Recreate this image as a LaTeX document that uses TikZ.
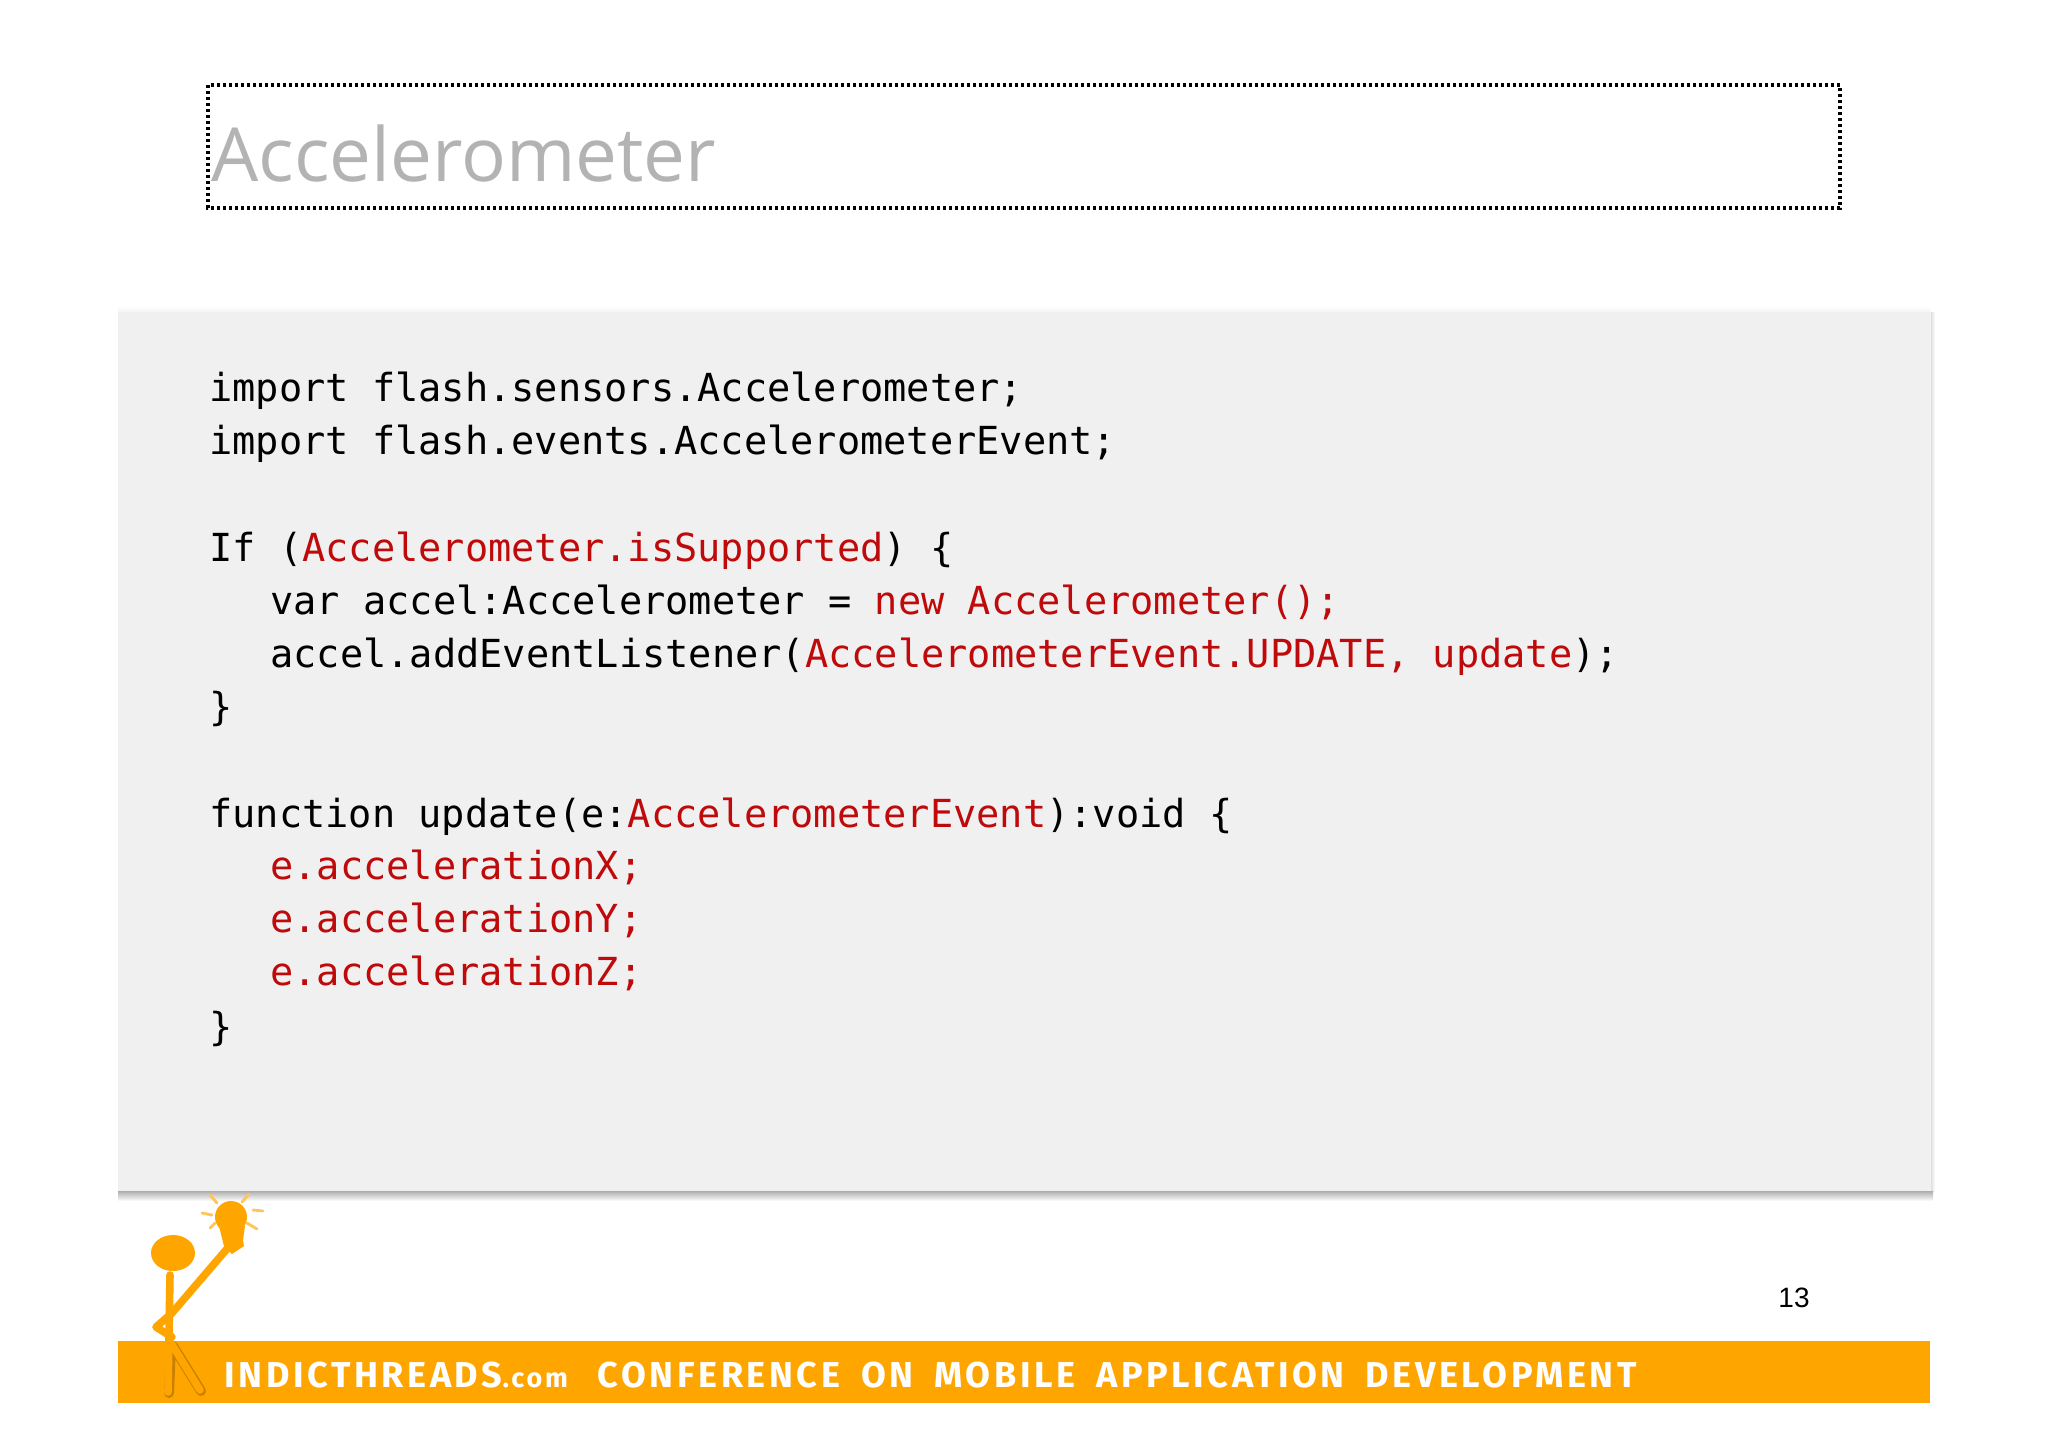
\documentclass[tikz,border=0pt]{standalone}
\usepackage{fontspec}
\setmonofont{DejaVu Sans Mono}
\newfontfamily\titlefont{Open Sans}
\newfontfamily\bannerfont[LetterSpace=10]{Fira Sans}
\newfontfamily\pagefont{Liberation Sans}
\definecolor{titlegray}{HTML}{B3B3B3}
\definecolor{panelgray}{HTML}{F0F0F1}
\definecolor{codered}{HTML}{BE0A0A}
\definecolor{bandorange}{HTML}{FFA500}
\definecolor{banddark}{HTML}{C98000}
\newcommand{\kw}[1]{\textcolor{codered}{#1}}
\begin{document}
\begin{tikzpicture}[x=0.5pt,y=-0.5pt,
        codeline/.style={anchor=base west,inner sep=0pt,font=\ttfamily\fontsize{19.31}{23}\selectfont},
        stick/.style={bandorange,line width=3.8pt,line cap=round,line join=round},
        rim/.style={banddark,line width=5pt,line cap=round,line join=round},
        ray/.style={bandorange!65,line width=1.4pt,line cap=round}]
    \useasboundingbox (0,0) rectangle (2048,1447);
    \fill[white](0,0) rectangle (2048,1447);
    \draw[black,line width=2pt,dash pattern=on 1.5pt off 1.5pt](208,85) rectangle (1840,208);
    \node[anchor=base west,inner sep=0pt,text=titlegray,font=\titlefont\fontsize{37.3}{40}\selectfont] (title) at (211,181) {Accelerometer};
    \shade[top color=white,bottom color=panelgray!70](118,306) rectangle (1931,312);
    \shade[left color=black!12,right color=white](1931,312) rectangle (1935,1191);
    \shade[top color=black!32,bottom color=white](118,1191) rectangle (1933,1201);
    \fill[panelgray](118,312) rectangle (1931,1191);
    \node[codeline] (importa) at (209,401) {import flash.sensors.Accelerometer;};
    \node[codeline] (importb) at (209,454) {import flash.events.AccelerometerEvent;};
    \node[codeline] (ifline) at (209,561) {If (\kw{Accelerometer.isSupported}) \{};
    \node[codeline] (varline) at (270,614) {var accel:Accelerometer = \kw{new Accelerometer();}};
    \node[codeline] (listenline) at (270,667) {accel.addEventListener(\kw{AccelerometerEvent.UPDATE, update});};
    \node[codeline] (ifend) at (209,720) {\}};
    \node[codeline] (funcline) at (209,827) {function update(e:\kw{AccelerometerEvent}):void \{};
    \node[codeline] (xline) at (270,879) {\kw{e.accelerationX;}};
    \node[codeline] (yline) at (270,932) {\kw{e.accelerationY;}};
    \node[codeline] (zline) at (270,985) {\kw{e.accelerationZ;}};
    \node[codeline] (funcend) at (209,1040) {\}};
    \node[anchor=base,inner sep=0pt,font=\pagefont\fontsize{14}{16}\selectfont] (pagenum) at (1794,1307) {13};
    \fill[bandorange](118,1341) rectangle (1930,1403);
    \node[anchor=base west,inner sep=0pt,text=white,font=\bannerfont\bfseries\fontsize{18}{20}\selectfont] (banner) at (224,1387)
        {INDICTHREADS{\fontsize{13.5}{14}\selectfont.com}\hspace{15pt}CONFERENCE\hspace{10.5pt}ON\hspace{10.5pt}MOBILE\hspace{10.5pt}APPLICATION\hspace{10.5pt}DEVELOPMENT};
    \draw[rim](171,1345)--(169,1393);
    \draw[rim](173,1346)--(201,1391);
    \draw[stick](170,1275)--(168,1392);
    \draw[stick](171,1343)--(200,1390);
    \draw[stick](232,1243)--(172,1313)--(156,1327)--(172,1337);
    \fill[bandorange](173,1253) ellipse (22 and 18);
    \fill[bandorange](231,1217) circle (16);
    \fill[bandorange](219,1226)--(245,1226)--(243,1240)--(244,1246)--(232,1254)--(224,1246)--cycle;
    \draw[ray](202,1213)--(212,1215);
    \draw[ray](210,1195)--(217,1203);
    \draw[ray](242,1202)--(249,1194);
    \draw[ray](253,1210)--(263,1211);
    \draw[ray](247,1223)--(257,1229);
    \draw[ray](210,1228)--(215,1223);
\end{tikzpicture}
\end{document}
